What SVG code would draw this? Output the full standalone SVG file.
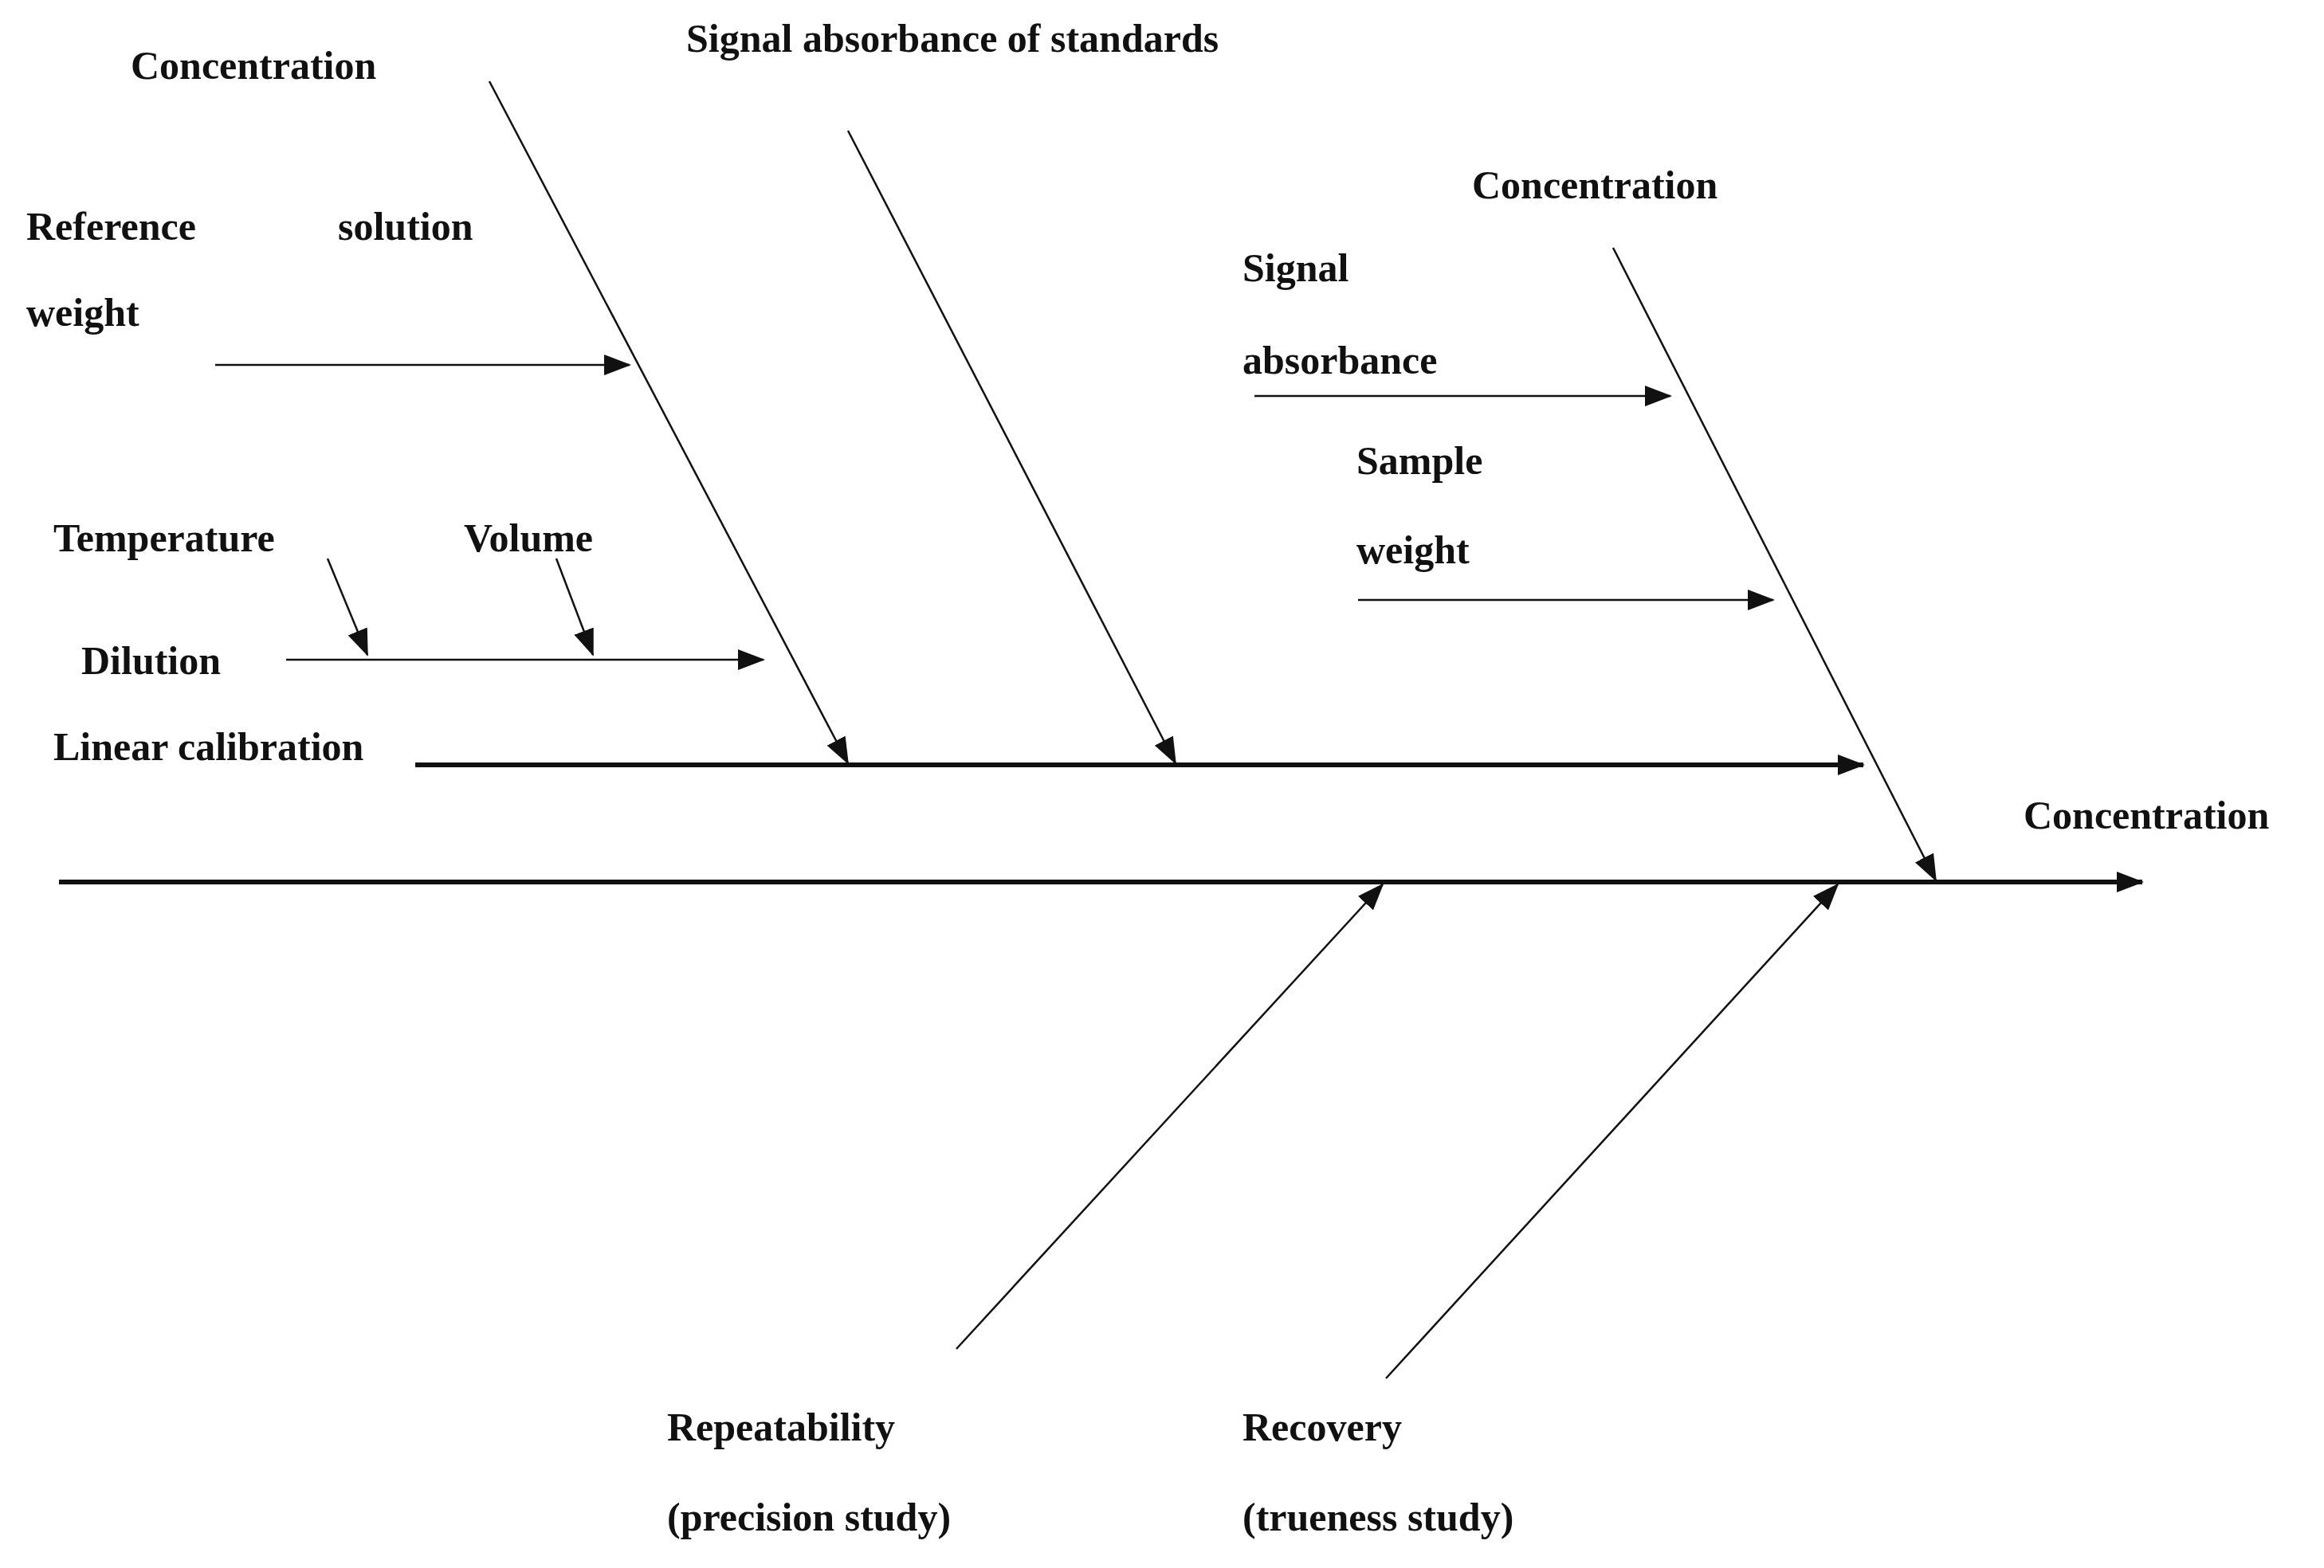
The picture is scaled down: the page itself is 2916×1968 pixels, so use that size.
<svg xmlns="http://www.w3.org/2000/svg" width="2916" height="1968" viewBox="0 0 2916 1968">
<style>
text{font-family:"Liberation Serif",serif;font-size:50px;font-weight:bold;fill:#111}
.t{stroke:#111;stroke-width:2.5;fill:none;marker-end:url(#a)}
.k{stroke:#111;stroke-width:6;fill:none;marker-end:url(#a)}
</style>
<defs><marker id="a" markerUnits="userSpaceOnUse" markerWidth="34" markerHeight="26" refX="32" refY="13" orient="auto"><path d="M0,0 L34,13 L0,26 Z" fill="#111"/></marker></defs>
<rect width="2916" height="1968" fill="#fff"/>
<g id="connectors">
<line class="k" x1="74" y1="1107" x2="2688" y2="1107"/>
<line class="k" x1="521" y1="960" x2="2338" y2="960"/>
<line class="t" x1="614" y1="102" x2="1064" y2="958"/>
<line class="t" x1="1064" y1="164" x2="1475" y2="958"/>
<line class="t" x1="2024" y1="311" x2="2429" y2="1105"/>
<line class="t" x1="270" y1="458" x2="790" y2="458"/>
<line class="t" x1="359" y1="828" x2="958" y2="828"/>
<line class="t" x1="411" y1="701" x2="461" y2="822"/>
<line class="t" x1="698" y1="701" x2="744" y2="822"/>
<line class="t" x1="1574" y1="497" x2="2096" y2="497"/>
<line class="t" x1="1704" y1="753" x2="2225" y2="753"/>
<line class="t" x1="1200" y1="1693" x2="1735" y2="1110"/>
<line class="t" x1="1739" y1="1730" x2="2306" y2="1110"/>
</g>
<g id="n1"><text x="164" y="99">Concentration</text></g>
<g id="n2"><text x="861" y="65">Signal absorbance of standards</text></g>
<g id="n3"><text x="33" y="301">Reference</text><text x="424" y="301">solution</text><text x="33" y="409">weight</text></g>
<g id="n4"><text x="67" y="692">Temperature</text></g>
<g id="n5"><text x="582" y="692">Volume</text></g>
<g id="n6"><text x="102" y="846">Dilution</text></g>
<g id="n7"><text x="67" y="954">Linear calibration</text></g>
<g id="n8"><text x="1847" y="249">Concentration</text></g>
<g id="n9"><text x="1559" y="353">Signal</text><text x="1559" y="469">absorbance</text></g>
<g id="n10"><text x="1702" y="595">Sample</text><text x="1702" y="707">weight</text></g>
<g id="n11"><text x="2539" y="1040">Concentration</text></g>
<g id="n12"><text x="837" y="1808">Repeatability</text><text x="837" y="1921">(precision study)</text></g>
<g id="n13"><text x="1559" y="1808">Recovery</text><text x="1559" y="1921">(trueness study)</text></g>
</svg>
